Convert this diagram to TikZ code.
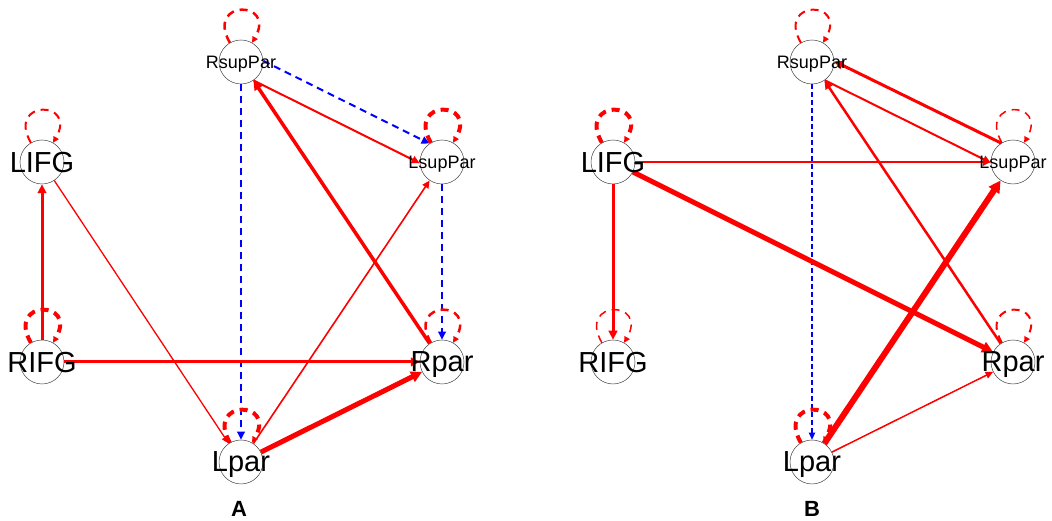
\documentclass[tikz,border=0pt]{standalone}
\usepackage{fontspec}
\setmainfont{Liberation Sans}
\usepackage{tikz}
\usetikzlibrary{arrows.meta,backgrounds}

\tikzset{
  region/.style={circle, draw=black!75, line width=0.5pt, minimum size=44pt, inner sep=0pt, text depth=0pt, font=\fontsize{29}{29}\selectfont},
  smalltext/.style={font=\fontsize{18}{18}\selectfont},
  excite/.style={draw=red, -{Triangle[length=6pt 1, width=5pt 1.2]}},
  inhib/.style={draw=blue, dash pattern=on 7pt off 5pt, -{Triangle[length=6pt 1, width=5pt 1.2]}},
  selfloop/.style={draw=red, dash pattern=on 8pt off 6pt, out=120, in=60, distance=50pt, -{Triangle[length=6pt, width=6pt]}},
  panel/.style={font=\fontsize{22}{22}\selectfont\bfseries}
}

\begin{document}
\begin{tikzpicture}[x=1pt, y=1pt]
 \useasboundingbox (0,0) rectangle (1052,521);
 % panel A
 \node[region, smalltext] (aRsup) at (241,459) {\makebox[0pt]{RsupPar}};
 \node[region, smalltext] (aLsup) at (442,359) {\makebox[0pt]{LsupPar}};
 \node[region] (aLIFG) at (42,359) {\makebox[0pt]{LIFG}};
 \node[region] (aRIFG) at (42,159) {\makebox[0pt]{RIFG}};
 \node[region] (aRpar) at (442,159) {\makebox[0pt]{Rpar}};
 \node[region] (aLpar) at (241,59) {\makebox[0pt]{Lpar}};
 \node[panel] (labA) at (239,12) {A};
 % panel B
 \node[region, smalltext] (bRsup) at (812,459) {\makebox[0pt]{RsupPar}};
 \node[region, smalltext] (bLsup) at (1013,359) {\makebox[0pt]{LsupPar}};
 \node[region] (bLIFG) at (613,359) {\makebox[0pt]{LIFG}};
 \node[region] (bRIFG) at (613,159) {\makebox[0pt]{RIFG}};
 \node[region] (bRpar) at (1013,159) {\makebox[0pt]{Rpar}};
 \node[region] (bLpar) at (812,59) {\makebox[0pt]{Lpar}};
 \node[panel] (labB) at (812,12) {B};

 \begin{pgfonlayer}{background}
  % panel A
  \path
  (aRsup.3) edge[inhib, line width=2pt] (aLsup.124)
  (aRsup) edge[inhib, line width=2pt] (aLpar)
  (aLsup) edge[inhib, line width=2pt] (aRpar)
  (aRsup.-56) edge[excite, line width=2pt] (aLsup.183)
  (aRIFG) edge[excite, line width=3pt] (aLIFG)
          edge[excite, line width=3pt] (aRpar)
  (aLIFG) edge[excite, line width=1.3pt] (aLpar)
  (aLpar) edge[excite, line width=5pt] (aRpar)
          edge[excite, line width=1.6pt] (aLsup)
  (aRpar) edge[excite, line width=3.5pt] (aRsup);
  \path
  (aRsup) edge[selfloop, line width=2.5pt] (aRsup)
  (aLsup) edge[selfloop, line width=4pt] (aLsup)
  (aLIFG) edge[selfloop, line width=2pt] (aLIFG)
  (aRIFG) edge[selfloop, line width=4pt] (aRIFG)
  (aRpar) edge[selfloop, line width=2.5pt] (aRpar)
  (aLpar) edge[selfloop, line width=4pt] (aLpar);
  % panel B
  \path
  (bRsup) edge[inhib, line width=1.2pt, dash pattern=on 5pt off 3pt] (bLpar)
  (bLIFG) edge[excite, line width=2pt] (bLsup)
          edge[excite, line width=5pt] (bRpar)
          edge[excite, line width=3pt] (bRIFG)
  (bLpar) edge[excite, line width=6pt] (bLsup)
          edge[excite, line width=1.5pt] (bRpar)
  (bRpar) edge[excite, line width=2.5pt] (bRsup)
  (bLsup.122) edge[excite, line width=3pt] (bRsup.2)
  (bRsup.-55) edge[excite, line width=2pt] (bLsup.182);
  \path
  (bRsup) edge[selfloop, line width=2pt] (bRsup)
  (bLsup) edge[selfloop, line width=1.5pt] (bLsup)
  (bLIFG) edge[selfloop, line width=4pt] (bLIFG)
  (bRIFG) edge[selfloop, line width=1.5pt] (bRIFG)
  (bRpar) edge[selfloop, line width=2pt] (bRpar)
  (bLpar) edge[selfloop, line width=4pt] (bLpar);
 \end{pgfonlayer}
\end{tikzpicture}
\end{document}
